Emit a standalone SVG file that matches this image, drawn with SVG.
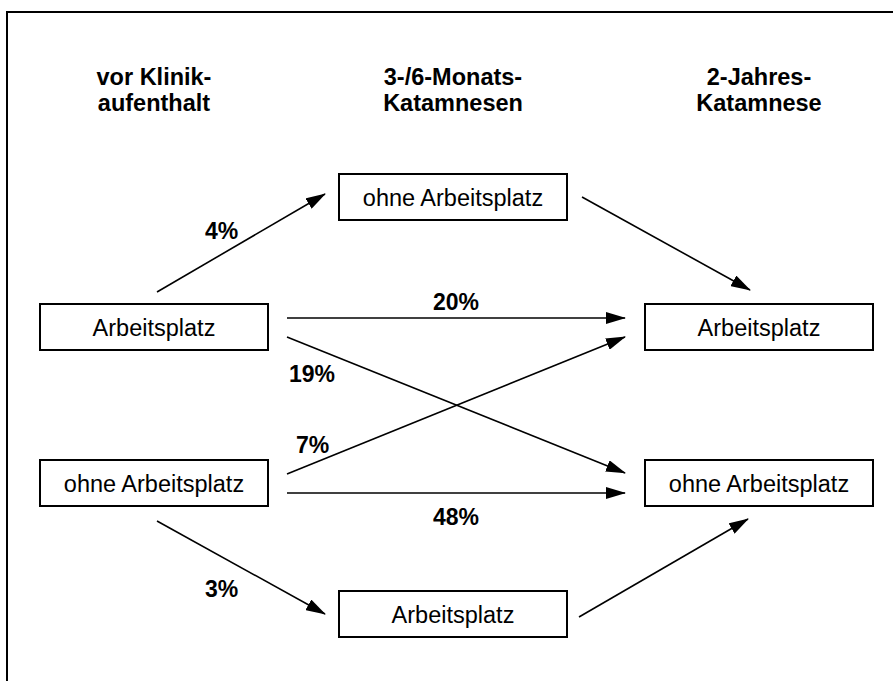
<svg xmlns="http://www.w3.org/2000/svg" width="893" height="681" viewBox="0 0 893 681">
<style>
.frame{stroke:#000;stroke-width:2;fill:none}
.box{fill:#fff;stroke:#000;stroke-width:2}
.lbl{font-family:"Liberation Sans",Arial,sans-serif;font-size:23.5px;fill:#000;text-anchor:middle}
.hdr{font-family:"Liberation Sans",Arial,sans-serif;font-size:23.5px;font-weight:bold;fill:#000;text-anchor:middle}
.pct{font-family:"Liberation Sans",Arial,sans-serif;font-size:23px;font-weight:bold;fill:#000}
.conn{stroke:#000;stroke-width:1.6;fill:none;marker-end:url(#ah)}
</style>
<defs>
<marker id="ah" markerUnits="userSpaceOnUse" markerWidth="20" markerHeight="12" refX="19" refY="6" orient="auto">
<path d="M0,0 L20,6 L0,12 z" fill="#000"/>
</marker>
</defs>
<rect width="893" height="681" fill="#fff"/>
<path class="frame" d="M7,681 V12 H893"/>
<g id="headers">
<text class="hdr" x="154" y="85">vor Klinik-<tspan x="154" y="111">aufenthalt</tspan></text>
<text class="hdr" x="453" y="85">3-/6-Monats-<tspan x="453" y="111">Katamnesen</tspan></text>
<text class="hdr" x="759" y="85">2-Jahres-<tspan x="759" y="111">Katamnese</tspan></text>
</g>
<g id="connectors">
<line class="conn" x1="157" y1="292" x2="325" y2="194"/>
<line class="conn" x1="582" y1="197" x2="750" y2="290"/>
<line class="conn" x1="287" y1="318" x2="625" y2="318"/>
<line class="conn" x1="287" y1="337" x2="625" y2="473"/>
<line class="conn" x1="287" y1="474" x2="625" y2="337"/>
<line class="conn" x1="287" y1="493" x2="625" y2="493"/>
<line class="conn" x1="157" y1="521" x2="325" y2="614"/>
<line class="conn" x1="579" y1="617" x2="748" y2="519"/>
</g>
<g id="labels">
<text class="pct" x="205" y="239">4%</text>
<text class="pct" x="433" y="310">20%</text>
<text class="pct" x="289" y="382">19%</text>
<text class="pct" x="296" y="453">7%</text>
<text class="pct" x="433" y="525">48%</text>
<text class="pct" x="205" y="597">3%</text>
</g>
<g id="n-vor-arbeit"><rect class="box" x="40" y="304" width="228" height="46"/><text class="lbl" x="154" y="336">Arbeitsplatz</text></g>
<g id="n-vor-ohne"><rect class="box" x="40" y="460" width="228" height="46"/><text class="lbl" x="154" y="492">ohne Arbeitsplatz</text></g>
<g id="n-mid-ohne"><rect class="box" x="339" y="174" width="228" height="46"/><text class="lbl" x="453" y="206">ohne Arbeitsplatz</text></g>
<g id="n-mid-arbeit"><rect class="box" x="339" y="591" width="228" height="46"/><text class="lbl" x="453" y="623">Arbeitsplatz</text></g>
<g id="n-2j-arbeit"><rect class="box" x="645" y="304" width="228" height="46"/><text class="lbl" x="759" y="336">Arbeitsplatz</text></g>
<g id="n-2j-ohne"><rect class="box" x="645" y="460" width="228" height="46"/><text class="lbl" x="759" y="492">ohne Arbeitsplatz</text></g>
</svg>
